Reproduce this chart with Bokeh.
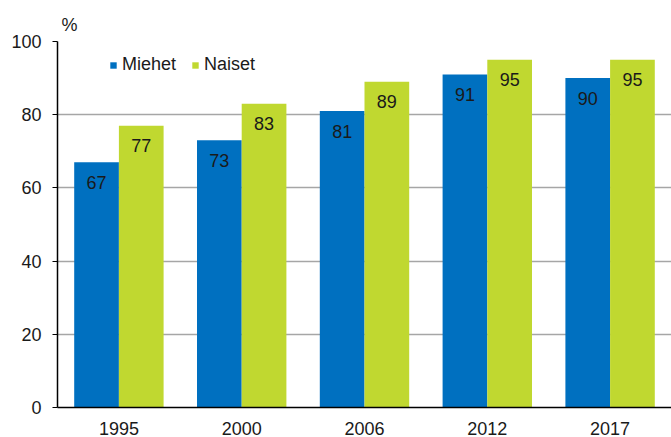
from bokeh.plotting import figure
from bokeh.models import ColumnDataSource, Legend, LegendItem, FactorRange
from bokeh.transform import dodge
from bokeh.core.properties import value
from bokeh.embed import file_html
from bokeh.resources import INLINE

years = ["1995", "2000", "2006", "2012", "2017"]
miehet = [67, 73, 81, 91, 90]
naiset = [77, 83, 89, 95, 95]
y_ticks = [0, 20, 40, 60, 80, 100]

BLUE = "#0070C0"
GREEN = "#C0D830"
FONT = "Liberation Sans"
FS = "18px"
TXT = "#1a1a1a"

src = ColumnDataSource(dict(
    years=years, miehet=miehet, naiset=naiset,
    miehet_lbl=[str(v) for v in miehet], naiset_lbl=[str(v) for v in naiset],
))

p = figure(x_range=FactorRange(*years), y_range=(0, 100), width=671, height=437,
           output_backend="svg", toolbar_location=None,
           min_border_left=57, min_border_right=0, min_border_top=41, min_border_bottom=30)
p.outline_line_color = None
p.background_fill_color = "white"

r1 = p.vbar(x=dodge("years", -0.182, range=p.x_range), top="miehet", width=0.364,
            source=src, fill_color=BLUE, line_color=None)
r2 = p.vbar(x=dodge("years", 0.182, range=p.x_range), top="naiset", width=0.364,
            source=src, fill_color=GREEN, line_color=None)

p.text(x=dodge("years", -0.182, range=p.x_range), y="miehet", text="miehet_lbl", source=src,
       text_align="center", text_baseline="middle", y_offset=20,
       text_font=value(FONT), text_font_size=FS, text_color=TXT)
p.text(x=dodge("years", 0.182, range=p.x_range), y="naiset", text="naiset_lbl", source=src,
       text_align="center", text_baseline="middle", y_offset=20,
       text_font=value(FONT), text_font_size=FS, text_color=TXT)

# axes
p.yaxis.ticker = y_ticks
p.yaxis.axis_line_color = "black"
p.yaxis.axis_line_width = 1.5
p.yaxis.major_tick_line_color = "black"
p.yaxis.major_tick_in = 0
p.yaxis.major_tick_out = 5
p.yaxis.minor_tick_line_color = None
p.yaxis.major_label_standoff = 11
p.yaxis.major_label_text_font = FONT
p.yaxis.major_label_text_font_size = FS
p.yaxis.major_label_text_color = TXT

p.xaxis.axis_line_color = "black"
p.xaxis.axis_line_width = 1.5
p.xaxis.major_tick_line_color = None
p.xaxis.minor_tick_line_color = None
p.xaxis.major_label_standoff = 8
p.xaxis.major_label_text_font = FONT
p.xaxis.major_label_text_font_size = FS
p.xaxis.major_label_text_color = TXT

p.xgrid.grid_line_color = None
p.ygrid.grid_line_color = "#a6a6a6"
p.ygrid.grid_line_width = 1.5

# "%" title
p.title.text = "%"
p.title.align = "left"
p.title.offset = 4
p.title.standoff = 14
p.title.text_font = FONT
p.title.text_font_size = FS
p.title.text_font_style = "normal"
p.title.text_color = TXT

legend = Legend(items=[LegendItem(label="Miehet", renderers=[r1]),
                       LegendItem(label="Naiset", renderers=[r2])],
                orientation="horizontal", location=(52, 332),
                glyph_width=8, glyph_height=8, label_standoff=5, spacing=15,
                padding=0, margin=0, border_line_color=None, background_fill_alpha=0,
                label_text_font=FONT, label_text_font_size=FS, label_text_color=TXT)
p.add_layout(legend)

open("out.html", "w").write(file_html(p, INLINE))
